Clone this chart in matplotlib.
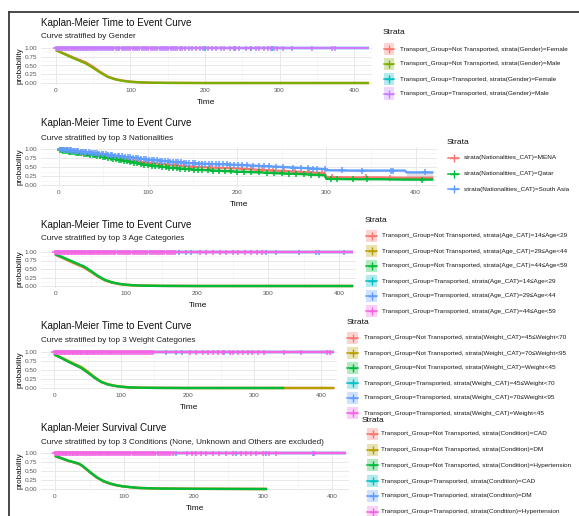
import numpy as np
import matplotlib
matplotlib.use('Agg')
import matplotlib.pyplot as plt
from matplotlib.lines import Line2D
from matplotlib.patches import Rectangle

plt.rcParams['font.family'] = ['Liberation Sans', 'DejaVu Sans']

# ---------------------------------------------------------------- data
titles = ["Kaplan-Meier Time to Event Curve"] * 4 + ["Kaplan-Meier Survival Curve"]
subtitles = ["Curve stratified by Gender",
             "Curve stratified by top 3 Nationalities",
             "Curve stratified by top 3 Age Categories",
             "Curve stratified by top 3 Weight Categories",
             "Curve stratified by top 3 Conditions (None, Unknown and Others are excluded)"]

x_ticks = [0, 100, 200, 300, 400]
y_ticks = [0.0, 0.25, 0.50, 0.75, 1.00]
y_tick_labels = ["0.00", "0.25", "0.50", "0.75", "1.00"]

pal4 = ['#F8766D', '#7CAE00', '#00BFC4', '#C77CFF']
pal3 = ['#F8766D', '#00BA38', '#619CFF']
pal6 = ['#F8766D', '#B79F00', '#00BA38', '#00BFC4', '#619CFF', '#F564E3']

# Not-transported survival curves (time, probability)
nt_time = [0, 10, 20, 30, 40, 50, 60, 70, 80, 90, 100, 115, 130, 150, 200, 420]
p1_female = [0.94, 0.85, 0.76, 0.67, 0.59, 0.46, 0.31, 0.18, 0.11, 0.065, 0.037, 0.016, 0.007, 0.003, 0.0, 0.0]
p1_male = [0.94, 0.84, 0.74, 0.65, 0.56, 0.43, 0.29, 0.17, 0.10, 0.06, 0.035, 0.015, 0.007, 0.003, 0.0, 0.0]

p3_age1 = [0.92, 0.83, 0.73, 0.64, 0.55, 0.42, 0.28, 0.17, 0.10, 0.06, 0.034, 0.015, 0.007, 0.003, 0.0, 0.0]
p3_age2 = [0.93, 0.84, 0.74, 0.65, 0.56, 0.43, 0.29, 0.17, 0.10, 0.06, 0.035, 0.015, 0.007, 0.003, 0.0, 0.0]
p3_age3 = [0.93, 0.85, 0.76, 0.67, 0.58, 0.45, 0.30, 0.18, 0.11, 0.065, 0.037, 0.016, 0.007, 0.003, 0.0, 0.0]

p4_time_w3 = [0, 10, 20, 30, 40, 50, 60, 70, 80, 90, 100, 115, 130, 150, 200, 345]
p4_w1 = [0.93, 0.84, 0.74, 0.65, 0.56, 0.43, 0.29, 0.17, 0.10, 0.06, 0.035, 0.015, 0.007, 0.003, 0.0, 0.0]
p4_w2 = [0.93, 0.85, 0.76, 0.67, 0.59, 0.46, 0.31, 0.18, 0.11, 0.065, 0.037, 0.016, 0.007, 0.003, 0.0, 0.0]
p4_w3 = [0.93, 0.84, 0.74, 0.65, 0.56, 0.43, 0.29, 0.17, 0.10, 0.06, 0.035, 0.015, 0.007, 0.003, 0.0, 0.0]

p5_time = [0, 10, 20, 30, 35, 40, 50, 60, 70, 80, 90, 100, 120, 150, 200, 306]
p5_cad = [0.92, 0.85, 0.78, 0.72, 0.69, 0.63, 0.47, 0.32, 0.21, 0.14, 0.095, 0.065, 0.03, 0.012, 0.004, 0.0]
p5_dm = [0.92, 0.85, 0.78, 0.73, 0.70, 0.64, 0.48, 0.33, 0.22, 0.15, 0.10, 0.07, 0.03, 0.013, 0.005, 0.0]
p5_htn = [0.92, 0.85, 0.78, 0.73, 0.70, 0.64, 0.48, 0.33, 0.22, 0.15, 0.10, 0.07, 0.03, 0.013, 0.005, 0.0]

# Transported curves stay at 1.0
tr_time = [0, 420]
tr_surv = [1.0, 1.0]

# Nationalities panel
nat_time = [0, 25, 50, 75, 100, 125, 150, 175, 200, 225, 250, 275, 290, 298, 300, 330, 360, 388, 390, 420]
nat_mena = [1.0, 0.90, 0.80, 0.70, 0.62, 0.56, 0.51, 0.48, 0.46, 0.42, 0.39, 0.36, 0.34, 0.33, 0.22, 0.21, 0.21, 0.20, 0.20, 0.20]
nat_qatar = [0.97, 0.88, 0.78, 0.66, 0.55, 0.48, 0.43, 0.40, 0.37, 0.35, 0.32, 0.30, 0.28, 0.27, 0.17, 0.16, 0.16, 0.15, 0.15, 0.15]
nat_sasia = [1.0, 0.93, 0.86, 0.78, 0.71, 0.65, 0.60, 0.58, 0.56, 0.53, 0.50, 0.47, 0.45, 0.44, 0.41, 0.40, 0.40, 0.40, 0.35, 0.35]

# censoring times
dense_early = [0, 2, 4, 6, 8, 10, 12, 14, 16, 18, 20, 22, 24, 26, 28, 30, 32, 34, 36, 38, 40, 42,
               45, 47, 49, 51, 53, 55, 58, 60, 62, 65, 67, 70, 72, 75, 77, 80, 83, 85, 88, 91, 94,
               97, 100, 103, 106, 109, 112, 115, 118, 121, 124, 127, 130, 133, 136, 139, 142, 145, 148]

p1_cens_male = dense_early + [151, 154, 157, 160, 163, 166, 169, 173, 178, 183, 188, 193, 197, 204,
                              210, 215, 222, 226, 233, 239, 246, 255, 262, 268, 273, 279, 284, 289,
                              293, 297, 304, 317, 344, 371, 375]
p1_cens_female = [200, 240, 262, 290]

p3_cens_top = dense_early + [151, 154, 157, 160, 163, 166, 169, 204, 213, 222, 232, 241, 250, 257,
                             267, 276, 285, 292]
p3_cens_blue = [175, 185, 192, 297, 311, 344, 367, 372, 407]

p4_cens_top = dense_early + [203, 213, 223, 230, 238, 245, 253, 263, 268, 275, 283, 290, 297, 305,
                             315, 345, 370, 409, 414]
p4_cens_blue = [168, 183, 191, 255]

p5_cens_top = dense_early + [151, 154, 157, 160, 163, 166, 170, 190, 197, 204, 211, 218, 228, 237,
                             247, 257, 269, 276, 283, 290, 300, 309, 319, 374]
p5_cens_blue = [175, 261, 305, 372]

nat_cens_sasia = [1, 3, 4, 6, 8, 10, 12, 14, 16, 18, 20, 22, 25, 27, 29, 31, 34, 36, 38, 41, 43, 45,
                  48, 50, 53, 55, 58, 60, 63, 66, 68, 71, 74, 77, 80, 83, 86, 89, 92, 95, 98, 101,
                  104, 107, 110, 113, 116, 119, 122, 125, 128, 131, 134, 137, 140, 143, 146, 150,
                  153, 157, 160, 164, 168, 172, 176, 180, 184, 188, 192, 196, 201, 205, 211, 218,
                  224, 230, 236, 243, 251, 262, 271, 279, 285, 290, 298, 318, 340, 372, 375, 410]
nat_cens_mena = [2, 5, 9, 13, 17, 21, 26, 30, 35, 40, 46, 52, 58, 64, 70, 77, 84, 91, 98, 106, 114,
                 122, 130, 140, 150, 160, 170, 180, 192, 205, 215, 228, 240, 253, 265, 280, 295,
                 306, 344, 371]
nat_cens_qatar = [1, 3, 5, 7, 9, 11, 13, 15, 17, 19, 21, 23, 25, 28, 30, 33, 35, 38, 40, 43, 46, 49,
                  52, 55, 58, 61, 64, 67, 70, 73, 76, 80, 84, 88, 92, 96, 100, 104, 108, 112, 116,
                  120, 124, 128, 132, 136, 141, 146, 151, 156, 161, 167, 173, 180, 186, 193, 200,
                  208, 216, 224, 233, 241, 250, 258, 266, 275, 283, 292, 305, 312, 330, 345, 407]

labels1 = ["Transport_Group=Not Transported, strata(Gender)=Female",
           "Transport_Group=Not Transported, strata(Gender)=Male",
           "Transport_Group=Transported, strata(Gender)=Female",
           "Transport_Group=Transported, strata(Gender)=Male"]
labels2 = ["strata(Nationalities_CAT)=MENA",
           "strata(Nationalities_CAT)=Qatar",
           "strata(Nationalities_CAT)=South Asia"]
labels3 = ["Transport_Group=Not Transported, strata(Age_CAT)=14≤Age<29",
           "Transport_Group=Not Transported, strata(Age_CAT)=29≤Age<44",
           "Transport_Group=Not Transported, strata(Age_CAT)=44≤Age<59",
           "Transport_Group=Transported, strata(Age_CAT)=14≤Age<29",
           "Transport_Group=Transported, strata(Age_CAT)=29≤Age<44",
           "Transport_Group=Transported, strata(Age_CAT)=44≤Age<59"]
labels4 = ["Transport_Group=Not Transported, strata(Weight_CAT)=45≤Weight<70",
           "Transport_Group=Not Transported, strata(Weight_CAT)=70≤Weight<95",
           "Transport_Group=Not Transported, strata(Weight_CAT)=Weight<45",
           "Transport_Group=Transported, strata(Weight_CAT)=45≤Weight<70",
           "Transport_Group=Transported, strata(Weight_CAT)=70≤Weight<95",
           "Transport_Group=Transported, strata(Weight_CAT)=Weight<45"]
labels5 = ["Transport_Group=Not Transported, strata(Condition)=CAD",
           "Transport_Group=Not Transported, strata(Condition)=DM",
           "Transport_Group=Not Transported, strata(Condition)=Hypertension",
           "Transport_Group=Transported, strata(Condition)=CAD",
           "Transport_Group=Transported, strata(Condition)=DM",
           "Transport_Group=Transported, strata(Condition)=Hypertension"]

# ---------------------------------------------------------------- layout
W, H = 579, 516
fig = plt.figure(figsize=(W / 100, H / 100), dpi=100)
fig.patch.set_facecolor('white')


def fx(p):
    return p / W


def fy(p):
    return 1 - p / H


XLIM = (-20, 424)
YLIM = (-0.05, 1.05)
LW = 1.7
MS = 5.0
MEW = 1.1


def make_panel(L, R, T, B, title, subtitle, title_y, sub_y):
    ax = fig.add_axes([fx(L), fy(B), (R - L) / W, (B - T) / H])
    ax.set_xlim(*XLIM)
    ax.set_ylim(*YLIM)
    ax.set_xticks(x_ticks)
    ax.set_xticks([50, 150, 250, 350], minor=True)
    ax.set_yticks(y_ticks)
    ax.set_yticklabels(y_tick_labels)
    ax.set_yticks([0.125, 0.375, 0.625, 0.875], minor=True)
    ax.grid(which='major', color='#E8E8E8', lw=0.7)
    ax.grid(which='minor', color='#F2F2F2', lw=0.4)
    ax.set_axisbelow(True)
    for s in ax.spines.values():
        s.set_visible(False)
    ax.tick_params(which='both', length=0, labelsize=4.6, labelcolor='#555555')
    ax.tick_params(axis='y', pad=2.6)
    ax.tick_params(axis='x', pad=2.6)
    fig.text(fx(41), fy(title_y), title, fontsize=7.1, va='center', ha='left', color='#111111')
    fig.text(fx(41), fy(sub_y), subtitle, fontsize=5.9, va='center', ha='left', color='#222222')
    fig.text(fx(20), fy((T + B) / 2), 'probability', rotation=90, fontsize=5.8,
             va='center', ha='center', color='#111111')
    fig.text(fx((L + R) / 2), fy(B + 17.5), 'Time', fontsize=6.0, va='center',
             ha='center', color='#111111')
    return ax


def curve(ax, t, s, color, cens=None):
    ax.plot(t, s, color=color, lw=LW, solid_capstyle='butt')
    if cens is not None and len(cens):
        cy = np.interp(cens, t, s)
        ax.plot(cens, cy, ls='none', marker='+', ms=MS, mew=MEW, color=color)


def legend(title_x, title_y, kx0, kx1, tx, rows, labels, colors, boxed=True):
    fig.text(fx(title_x), fy(title_y), 'Strata', fontsize=6.1, va='center', ha='left',
             color='#111111')
    for y, lab, c in zip(rows, labels, colors):
        if boxed:
            fig.add_artist(Rectangle((fx(kx0), fy(y + 6)), (kx1 - kx0) / W, 12 / H,
                                     transform=fig.transFigure, facecolor=c, alpha=0.3,
                                     edgecolor='none'))
        fig.add_artist(Line2D([fx(kx0), fx(kx1)], [fy(y), fy(y)], transform=fig.transFigure,
                              color=c, lw=1.1))
        fig.add_artist(Line2D([fx((kx0 + kx1) / 2)], [fy(y)], transform=fig.transFigure,
                              marker='+', ms=5.5, mew=1.0, color=c, ls='none'))
        fig.text(fx(tx), fy(y), lab, fontsize=4.6, va='center', ha='left', color='#1A1A1A')


# Panel 1 -- Gender
ax1 = make_panel(41, 372, 46.25, 84.75, titles[0], subtitles[0], 22.7, 36.7)
curve(ax1, nt_time, p1_female, pal4[0])
curve(ax1, nt_time, p1_male, pal4[1])
curve(ax1, tr_time, tr_surv, pal4[2], p1_cens_female)
curve(ax1, tr_time, tr_surv, pal4[3], p1_cens_male)
legend(383, 33, 384, 394, 400, [49, 64, 79, 93.5], labels1, pal4)

# Panel 2 -- Nationalities
ax2 = make_panel(41, 437, 147.2, 186.8, titles[1], subtitles[1], 123, 138)
ax2.fill_between([390, 420], [0.20, 0.20], [0.35, 0.35], color='#BDBDBD', alpha=0.45, lw=0)
curve(ax2, nat_time, nat_mena, pal3[0], nat_cens_mena)
curve(ax2, nat_time, nat_qatar, pal3[1], nat_cens_qatar)
curve(ax2, nat_time, nat_sasia, pal3[2], nat_cens_sasia)
legend(447, 142, 448, 459, 464, [158, 174, 189], labels2, pal3, boxed=False)

# Panel 3 -- Age
ax3 = make_panel(41, 356, 250.3, 287.7, titles[2], subtitles[2], 225, 239)
curve(ax3, nt_time, p3_age1, pal6[0])
curve(ax3, nt_time, p3_age2, pal6[1])
curve(ax3, nt_time, p3_age3, pal6[2])
curve(ax3, tr_time, tr_surv, pal6[3])
curve(ax3, tr_time, tr_surv, pal6[4], p3_cens_blue)
curve(ax3, tr_time, tr_surv, pal6[5], p3_cens_top)
legend(365, 221, 366, 377, 382, [236, 251, 266, 281, 296, 311], labels3, pal6)

# Panel 4 -- Weight
ax4 = make_panel(41, 337, 350.2, 389.8, titles[3], subtitles[3], 326, 340)
curve(ax4, nt_time, p4_w1, pal6[0])
curve(ax4, nt_time, p4_w2, pal6[1])
curve(ax4, p4_time_w3, p4_w3, pal6[2])
curve(ax4, tr_time, tr_surv, pal6[3])
curve(ax4, tr_time, tr_surv, pal6[4], p4_cens_blue)
curve(ax4, tr_time, tr_surv, pal6[5], p4_cens_top)
legend(347, 323, 347, 358, 364, [338, 353, 368, 383, 398, 413], labels4, pal6)

# Panel 5 -- Conditions
ax5 = make_panel(41, 349, 451.2, 490.8, titles[4], subtitles[4], 428, 442)
curve(ax5, p5_time, p5_cad, pal6[0])
curve(ax5, p5_time, p5_dm, pal6[1])
curve(ax5, p5_time, p5_htn, pal6[2])
curve(ax5, tr_time, tr_surv, pal6[3])
curve(ax5, tr_time, tr_surv, pal6[4], p5_cens_blue)
curve(ax5, tr_time, tr_surv, pal6[5], p5_cens_top)
legend(362, 420, 367, 378, 381, [434, 450, 465, 481, 496, 512], labels5, pal6)

# outer frame of the screenshot
fig.add_artist(Line2D([fx(9), fx(9)], [fy(12), fy(H)], transform=fig.transFigure,
                      color='#3A3A3A', lw=1.3))
fig.add_artist(Line2D([fx(9), 1.0], [fy(12), fy(12)], transform=fig.transFigure,
                      color='#3A3A3A', lw=1.3))

fig.savefig('out.png', dpi=100, facecolor='white')
